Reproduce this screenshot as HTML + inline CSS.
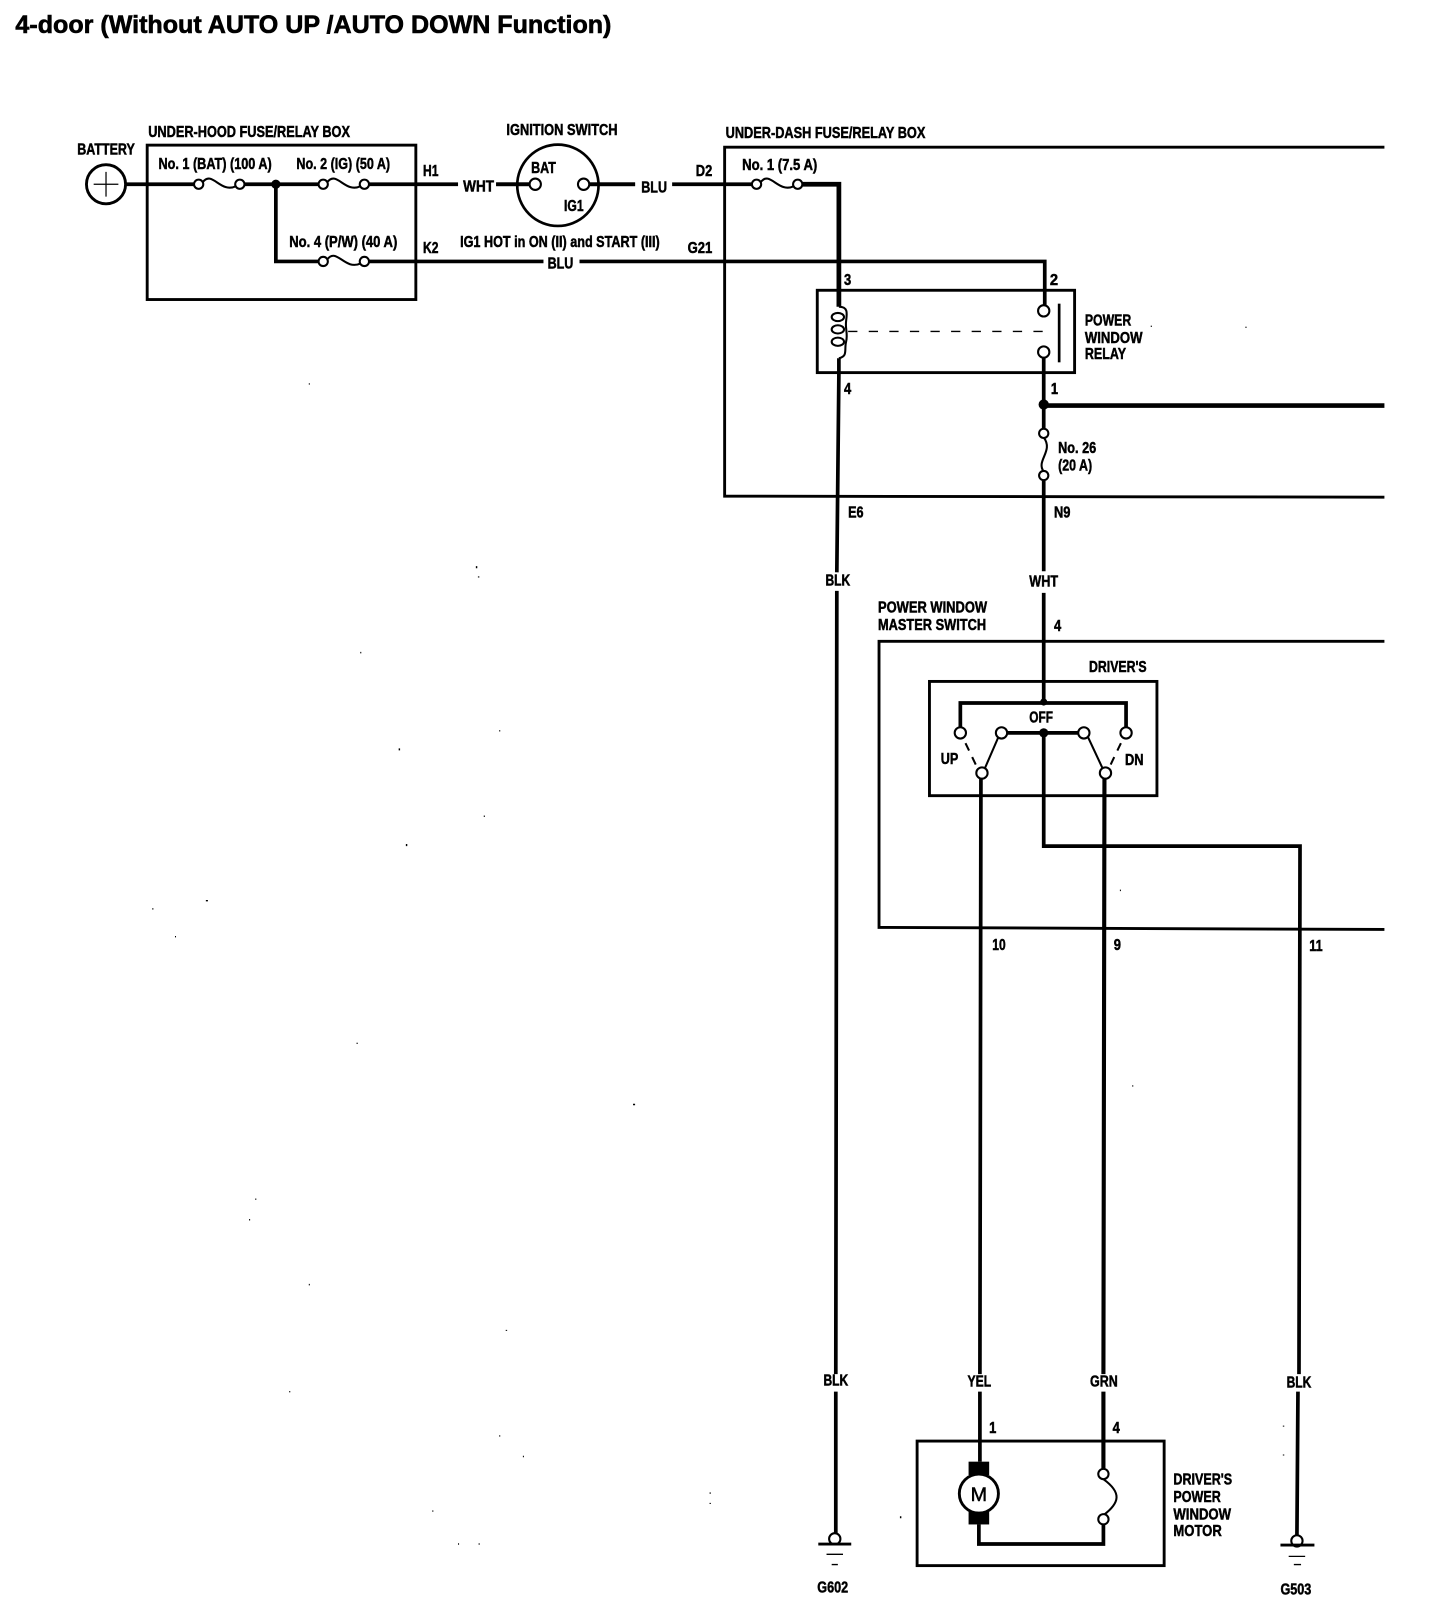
<!DOCTYPE html>
<html><head><meta charset="utf-8"><style>
html,body{margin:0;padding:0;background:#fff}
svg{display:block}
text{font-family:"Liberation Sans",sans-serif;font-weight:bold;font-size:15.5px;fill:#000;stroke:#000;stroke-width:.5}
.w{fill:none;stroke:#000;stroke-width:3.6;stroke-linejoin:miter}
.b{stroke-width:2.8}
.t{stroke-width:2}
.c{fill:#fff;stroke:#000;stroke-width:2}
</style></head><body>
<svg width="1440" height="1614" viewBox="0 0 1399 1568" preserveAspectRatio="none" xmlns="http://www.w3.org/2000/svg">
<text x="15" y="32" textLength="579" lengthAdjust="spacingAndGlyphs" style="font-size:24px;stroke-width:.6">4-door (Without AUTO UP /AUTO DOWN Function)</text>

<!-- boxes -->
<rect class="w b" x="143" y="141" width="261" height="150"/>
<path class="w b" d="M1345 143H704V482L1345 483"/>
<rect class="w b" x="794" y="282" width="250" height="80"/>
<path class="w b" d="M1345 623H854V901L1345 903"/>
<rect class="w b" x="903" y="662" width="221" height="111"/>
<rect class="w b" x="891" y="1400" width="240" height="121"/>

<!-- wires -->
<path class="w" d="M122 179H188M238 179H310M359 179H445M482 179H515M572 179H617M653 179H730"/>
<path class="w" style="stroke-width:4.6" d="M780 179H815V298"/>
<path class="w" d="M268 179V254H310M359 254H528M563 254H1015V297"/>
<path class="w" d="M815 348V363L813 556M813 574L812 1335M812 1352V1490"/>
<path class="w" d="M1014 347V416M1014 467V555M1014 576V682"/>
<path class="w" style="stroke-width:4.6" d="M1014 394H1345"/>
<path class="w" d="M933 707V683H1094V707"/>
<path class="w" d="M978 712H1048M1014 712V822H1263L1262 1335M1261 1352L1260 1492"/>
<path class="w" d="M953 756L952 1335M952 1352V1420"/>
<path class="w" style="stroke-width:4" d="M1073 756L1072 1335M1072 1352V1428"/>
<path class="w" d="M951 1481V1500H1072V1481"/>
<path class="w t" d="M957 746L970 716M1071 746L1057 716"/>
<path class="w t" style="stroke-dasharray:8 7" d="M938 722L950 747M1089 722L1077 747"/>

<!-- junctions -->
<circle cx="268" cy="179" r="4.5"/><circle cx="1014" cy="393" r="5"/>
<circle cx="1014" cy="682" r="3.5"/><circle cx="1014" cy="712" r="4.5"/>

<!-- fuses -->
<g style="fill:none;stroke:#000;stroke-width:2">
<path d="M197 177C206 165 214 188 229 181"/>
<path d="M318 177C327 165 335 188 350 181"/>
<path d="M318 252C327 240 335 263 350 256"/>
<path d="M739 177C748 165 756 188 771 181"/>
<path d="M1014 425C1024 438 1006 448 1014 458"/>
<path d="M1072 1437C1090 1450 1088 1460 1072 1472"/>
</g>
<g class="c">
<circle cx="193" cy="179" r="4.5"/><circle cx="233" cy="179" r="4.5"/>
<circle cx="314" cy="179" r="4.5"/><circle cx="354" cy="179" r="4.5"/>
<circle cx="314" cy="254" r="4.5"/><circle cx="354" cy="254" r="4.5"/>
<circle cx="735" cy="179" r="4.5"/><circle cx="775" cy="179" r="4.5"/>
<circle cx="1014" cy="421" r="4.5"/><circle cx="1014" cy="462" r="4.5"/>
<circle cx="1014" cy="302" r="5.5"/><circle cx="1014" cy="342" r="5.5"/>
<circle cx="933" cy="712" r="5.5"/><circle cx="1094" cy="712" r="5.5"/>
<circle cx="973" cy="712" r="5.5"/><circle cx="1053" cy="712" r="5.5"/>
<circle cx="954" cy="751" r="5.5"/><circle cx="1074" cy="751" r="5.5"/>
<circle cx="1072" cy="1432" r="5"/><circle cx="1072" cy="1476" r="5"/>
<circle cx="811" cy="1495" r="5.5"/><circle cx="1260" cy="1497" r="5.5"/>
</g>

<!-- battery -->
<circle cx="103" cy="179" r="19" fill="#fff" stroke="#000" stroke-width="2.8"/>
<path d="M91 179H115M103 167V191" stroke="#000" stroke-width="1.2"/>
<!-- ignition -->
<circle cx="542" cy="180" r="39.5" fill="none" stroke="#000" stroke-width="2.6"/>
<path class="w" d="M482 179H515M572 179H617"/>
<circle cx="520" cy="179" r="5.5" class="c"/><circle cx="567" cy="179" r="5.5" class="c"/>

<!-- coil -->
<path class="w t" d="M815 298C824 298 823 304 822 312C821 320 824 324 822 332C820 340 824 346 815 348"/>
<ellipse cx="814" cy="308" rx="6" ry="4" class="c"/><ellipse cx="814" cy="320" rx="6" ry="4" class="c"/><ellipse cx="814" cy="332" rx="6" ry="4" class="c"/>
<path d="M824 322H1017" stroke="#000" stroke-width="1.4" stroke-dasharray="9 11" fill="none"/>
<path d="M1029 295V352" stroke="#000" stroke-width="2.6"/>

<!-- motor -->
<rect x="941" y="1420" width="20" height="13"/><rect x="941" y="1468" width="20" height="13"/>
<circle cx="951" cy="1451" r="19" fill="#fff" stroke="#000" stroke-width="2.8"/>
<text x="943" y="1458" textLength="16" lengthAdjust="spacingAndGlyphs" style="font-size:19px;font-weight:normal">M</text>

<!-- grounds -->
<path d="M795 1500H827" stroke="#000" stroke-width="2.8"/><path d="M803 1510H819M808 1520H814" stroke="#000" stroke-width="1.3"/>
<path d="M1244 1501H1277" stroke="#000" stroke-width="2.8"/><path d="M1252 1512H1268M1257 1520H1264" stroke="#000" stroke-width="1.3"/>

<!-- specks -->
<path stroke="#000" stroke-width="1.4" fill="none" d="M388 727v2M395 820v2M470 793h1M200 875h2M485 710h1M463 550v2M465 560v1M300 373h1M350 634h1M148 883h1M170 910h1M347 1013v1M248 1165h1M242 1185h1M615 1073h2M300 1248h1M492 1292v1M508 1415h1M420 1468h1M445 1500h1M465 1500h1M690 1450v1M690 1460v1M875 1473v2M485 1395h1M281 1352h1M1247 1385v1M1247 1413v1M1100 1055h1M1088 865h1M1210 318h1M1118 317h1"/>

<!-- labels -->
<text x="75" y="150" textLength="56" lengthAdjust="spacingAndGlyphs">BATTERY</text>
<text x="144" y="133" textLength="196" lengthAdjust="spacingAndGlyphs">UNDER-HOOD FUSE/RELAY BOX</text>
<text x="492" y="131" textLength="108" lengthAdjust="spacingAndGlyphs">IGNITION SWITCH</text>
<text x="705" y="134" textLength="194" lengthAdjust="spacingAndGlyphs">UNDER-DASH FUSE/RELAY BOX</text>
<text x="154" y="164" textLength="110" lengthAdjust="spacingAndGlyphs">No. 1 (BAT) (100 A)</text>
<text x="288" y="164" textLength="91" lengthAdjust="spacingAndGlyphs">No. 2 (IG) (50 A)</text>
<text x="281" y="240" textLength="105" lengthAdjust="spacingAndGlyphs">No. 4 (P/W) (40 A)</text>
<text x="721" y="165" textLength="73" lengthAdjust="spacingAndGlyphs">No. 1 (7.5 A)</text>
<text x="411" y="171" textLength="15" lengthAdjust="spacingAndGlyphs">H1</text>
<text x="411" y="246" textLength="15" lengthAdjust="spacingAndGlyphs">K2</text>
<text x="676" y="171" textLength="16" lengthAdjust="spacingAndGlyphs">D2</text>
<text x="668" y="246" textLength="24" lengthAdjust="spacingAndGlyphs">G21</text>
<text x="450" y="186" textLength="30" lengthAdjust="spacingAndGlyphs">WHT</text>
<text x="623" y="187" textLength="25" lengthAdjust="spacingAndGlyphs">BLU</text>
<text x="532" y="261" textLength="25" lengthAdjust="spacingAndGlyphs">BLU</text>
<text x="516" y="168" textLength="24" lengthAdjust="spacingAndGlyphs">BAT</text>
<text x="548" y="205" textLength="19" lengthAdjust="spacingAndGlyphs">IG1</text>
<text x="447" y="240" textLength="194" lengthAdjust="spacingAndGlyphs">IG1 HOT in ON (II) and START (III)</text>
<text x="820" y="277" textLength="7" lengthAdjust="spacingAndGlyphs">3</text>
<text x="1020" y="277" textLength="8" lengthAdjust="spacingAndGlyphs">2</text>
<text x="820" y="383" textLength="7" lengthAdjust="spacingAndGlyphs">4</text>
<text x="1021" y="383" textLength="7" lengthAdjust="spacingAndGlyphs">1</text>
<text x="1054" y="316" textLength="45" lengthAdjust="spacingAndGlyphs">POWER</text>
<text x="1054" y="333" textLength="56" lengthAdjust="spacingAndGlyphs">WINDOW</text>
<text x="1054" y="349" textLength="40" lengthAdjust="spacingAndGlyphs">RELAY</text>
<text x="1028" y="440" textLength="37" lengthAdjust="spacingAndGlyphs">No. 26</text>
<text x="1028" y="457" textLength="33" lengthAdjust="spacingAndGlyphs">(20 A)</text>
<text x="824" y="503" textLength="15" lengthAdjust="spacingAndGlyphs">E6</text>
<text x="1024" y="503" textLength="16" lengthAdjust="spacingAndGlyphs">N9</text>
<text x="802" y="569" textLength="24" lengthAdjust="spacingAndGlyphs">BLK</text>
<text x="1000" y="570" textLength="28" lengthAdjust="spacingAndGlyphs">WHT</text>
<text x="853" y="595" textLength="106" lengthAdjust="spacingAndGlyphs">POWER WINDOW</text>
<text x="853" y="612" textLength="105" lengthAdjust="spacingAndGlyphs">MASTER SWITCH</text>
<text x="1024" y="613" textLength="7" lengthAdjust="spacingAndGlyphs">4</text>
<text x="1058" y="653" textLength="56" lengthAdjust="spacingAndGlyphs">DRIVER'S</text>
<text x="1000" y="702" textLength="23" lengthAdjust="spacingAndGlyphs">OFF</text>
<text x="914" y="742" textLength="17" lengthAdjust="spacingAndGlyphs">UP</text>
<text x="1093" y="743" textLength="18" lengthAdjust="spacingAndGlyphs">DN</text>
<text x="964" y="923" textLength="13" lengthAdjust="spacingAndGlyphs">10</text>
<text x="1082" y="923" textLength="7" lengthAdjust="spacingAndGlyphs">9</text>
<text x="1272" y="924" textLength="13" lengthAdjust="spacingAndGlyphs">11</text>
<text x="800" y="1346" textLength="24" lengthAdjust="spacingAndGlyphs">BLK</text>
<text x="940" y="1347" textLength="23" lengthAdjust="spacingAndGlyphs">YEL</text>
<text x="1059" y="1347" textLength="27" lengthAdjust="spacingAndGlyphs">GRN</text>
<text x="1250" y="1348" textLength="24" lengthAdjust="spacingAndGlyphs">BLK</text>
<text x="961" y="1392" textLength="7" lengthAdjust="spacingAndGlyphs">1</text>
<text x="1081" y="1392" textLength="7" lengthAdjust="spacingAndGlyphs">4</text>
<text x="1140" y="1442" textLength="57" lengthAdjust="spacingAndGlyphs">DRIVER'S</text>
<text x="1140" y="1459" textLength="46" lengthAdjust="spacingAndGlyphs">POWER</text>
<text x="1140" y="1476" textLength="56" lengthAdjust="spacingAndGlyphs">WINDOW</text>
<text x="1140" y="1492" textLength="47" lengthAdjust="spacingAndGlyphs">MOTOR</text>
<text x="794" y="1547" textLength="30" lengthAdjust="spacingAndGlyphs">G602</text>
<text x="1244" y="1549" textLength="30" lengthAdjust="spacingAndGlyphs">G503</text>
</svg>
</body></html>
